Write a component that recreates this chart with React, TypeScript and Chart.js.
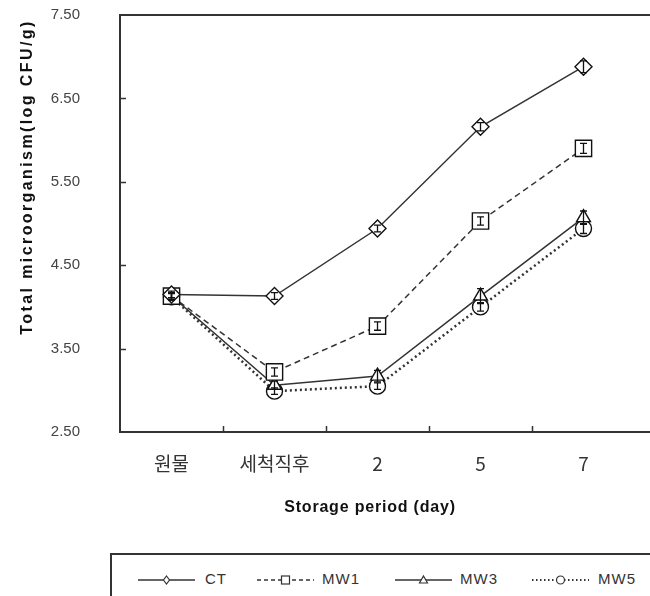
import React, { useEffect, useRef } from 'react';
import { Chart, registerables } from 'chart.js';

Chart.register(...registerables);

const categories = ['원물', '세척직후', '2', '5', '7'];
const ctValues = [4.15, 4.13, 4.94, 6.16, 6.88];
const mw1Values = [4.13, 3.22, 3.77, 5.03, 5.9];
const mw3Values = [4.13, 3.06, 3.17, 4.13, 5.07];
const mw5Values = [4.12, 2.99, 3.05, 4.0, 4.94];
const ctErr = [0.04, 0.04, 0.04, 0.05, 0.07];
const mw1Err = [0.04, 0.05, 0.05, 0.05, 0.06];
const mw3Err = [0.04, 0.05, 0.07, 0.09, 0.08];
const mw5Err = [0.04, 0.04, 0.04, 0.05, 0.06];
const yMin = 2.5;
const yMax = 7.5;
const yStep = 1;
const yTitle = 'Total microorganism(log CFU/g)';
const xTitle = 'Storage period (day)';
const seriesNames = ['CT', 'MW1', 'MW3', 'MW5'];

const LINE = '#333';

const errorBars = [ctErr, mw1Err, mw3Err, mw5Err];

const customPlugin = {
  id: 'custom',
  afterDatasetsDraw(chart: any) {
    const { ctx, chartArea, scales } = chart;
    const x = scales.x;
    const y = scales.y;
    ctx.save();
    // error bars
    ctx.strokeStyle = '#111';
    ctx.lineWidth = 1.3;
    chart.data.datasets.forEach((ds: any, di: number) => {
      const errs = errorBars[di];
      ds.data.forEach((v: number, i: number) => {
        const px = x.getPixelForValue(i);
        const y1 = y.getPixelForValue(v + errs[i]);
        const y2 = y.getPixelForValue(v - errs[i]);
        ctx.beginPath();
        ctx.moveTo(px, y1);
        ctx.lineTo(px, y2);
        ctx.moveTo(px - 3.5, y1);
        ctx.lineTo(px + 3.5, y1);
        ctx.moveTo(px - 3.5, y2);
        ctx.lineTo(px + 3.5, y2);
        ctx.stroke();
      });
    });
    // frame
    ctx.strokeStyle = LINE;
    ctx.lineWidth = 2;
    ctx.strokeRect(chartArea.left, chartArea.top, chartArea.right - chartArea.left, chartArea.bottom - chartArea.top);
    // inner ticks x
    ctx.lineWidth = 1.5;
    ctx.beginPath();
    for (let i = 1; i < categories.length; i++) {
      const px = Math.round((x.getPixelForValue(i - 1) + x.getPixelForValue(i)) / 2) + 0.5;
      ctx.moveTo(px, chartArea.bottom);
      ctx.lineTo(px, chartArea.bottom - 6);
    }
    // inner ticks y
    for (let v = yMin + yStep; v < yMax; v += yStep) {
      const py = Math.round(y.getPixelForValue(v)) + 0.5;
      ctx.moveTo(chartArea.left, py);
      ctx.lineTo(chartArea.left + 6, py);
    }
    ctx.stroke();
    // axis titles
    ctx.fillStyle = '#111';
    ctx.textAlign = 'center';
    ctx.textBaseline = 'middle';
    ctx.font = 'bold 16px "Liberation Sans Narrow", "Liberation Sans", Arial, sans-serif';
    try { (ctx as any).letterSpacing = '2.4px'; } catch (e) {}
    ctx.save();
    ctx.translate(28, chartArea.top + 162);
    ctx.rotate(-Math.PI / 2);
    ctx.fillText(yTitle, 0, 0);
    ctx.restore();
    try { (ctx as any).letterSpacing = '0.8px'; } catch (e) {}
    ctx.fillText(xTitle, chartArea.left + 250, chartArea.bottom + 76);
    ctx.restore();
  },
};

function Sample({ dash, width, marker }: { dash?: string; width: number; marker: string }) {
  const w = 57;
  const h = 14;
  const cx = w / 2;
  const cy = h / 2;
  let m: any = null;
  if (marker === 'diamond') m = <polygon points={`${cx},${cy - 4} ${cx + 3},${cy} ${cx},${cy + 4} ${cx - 3},${cy}`} fill="#fff" stroke="#333" strokeWidth={1.2} />;
  if (marker === 'square') m = <rect x={cx - 4} y={cy - 4} width={8} height={8} fill="#fff" stroke="#333" strokeWidth={1.2} />;
  if (marker === 'triangle') m = <polygon points={`${cx},${cy - 4} ${cx + 4},${cy + 3} ${cx - 4},${cy + 3}`} fill="#fff" stroke="#333" strokeWidth={1.2} />;
  if (marker === 'circle') m = <circle cx={cx} cy={cy} r={4} fill="#fff" stroke="#333" strokeWidth={1.2} />;
  return (
    <svg width={w} height={h} style={{ display: 'block' }}>
      <line x1={0} y1={cy} x2={w} y2={cy} stroke="#333" strokeWidth={width} strokeDasharray={dash} />
      {m}
    </svg>
  );
}

export default function App() {
  const ref = useRef<HTMLCanvasElement>(null);
  useEffect(() => {
    if (!ref.current) return;
    const common = {
      pointBorderColor: '#111',
      pointBackgroundColor: '#fff',
      pointBorderWidth: 1.4,
      borderColor: LINE,
      tension: 0,
      fill: false,
    };
    const chart = new Chart(ref.current, {
      type: 'line',
      data: {
        labels: [...categories, ''],
        datasets: [
          { ...common, label: seriesNames[0], data: ctValues, borderWidth: 1.5, pointStyle: 'rectRot', pointRadius: 8.5 },
          { ...common, label: seriesNames[1], data: mw1Values, borderWidth: 1.5, borderDash: [6, 4], pointStyle: 'rect', pointRadius: 11.5 },
          { ...common, label: seriesNames[2], data: mw3Values, borderWidth: 1.5, pointStyle: 'triangle', pointRadius: 8 },
          { ...common, label: seriesNames[3], data: mw5Values, borderWidth: 2.5, borderDash: [2, 3], pointStyle: 'circle', pointRadius: 8 },
        ],
      },
      options: {
        responsive: false,
        animation: false,
        layout: { autoPadding: false, padding: { left: 0, right: 10, top: 15, bottom: 0 } },
        plugins: { legend: { display: false }, tooltip: { enabled: false } },
        scales: {
          x: {
            type: 'category',
            offset: true,
            grid: { display: false, drawTicks: false },
            border: { display: false },
            ticks: {
              padding: 20,
              color: '#333',
              font: { family: '"Noto Sans CJK KR", "Liberation Sans", sans-serif', size: 19 },
              maxRotation: 0,
              autoSkip: false,
            },
            afterFit: (s: any) => { s.height = 108; },
          },
          y: {
            min: yMin,
            max: yMax,
            grid: { display: false, drawTicks: false },
            border: { display: false },
            ticks: {
              stepSize: yStep,
              padding: 40,
              color: '#444',
              font: { family: '"Liberation Sans", Arial, sans-serif', size: 15 },
              callback: (v: any) => Number(v).toFixed(2),
            },
            afterFit: (s: any) => { s.width = 120; s.paddingTop = 0; s.paddingBottom = 0; },
          },
        },
      },
      plugins: [customPlugin],
    });
    return () => chart.destroy();
  }, []);

  const items = [
    { name: seriesNames[0], left: 26, textLeft: 93, marker: 'diamond', width: 1.5 },
    { name: seriesNames[1], left: 145, textLeft: 210, marker: 'square', dash: '4 3', width: 1.3 },
    { name: seriesNames[2], left: 283, textLeft: 348, marker: 'triangle', width: 1.5 },
    { name: seriesNames[3], left: 420, textLeft: 486, marker: 'circle', dash: '1.5 2.5', width: 2 },
  ];

  return (
    <div style={{ position: 'fixed', left: 0, top: 0, width: 650, height: 596, overflow: 'hidden', background: '#fff' }}>
      <canvas ref={ref} width={748} height={540} style={{ position: 'absolute', left: 0, top: 0 }} />
      <div style={{ position: 'absolute', left: 110, top: 553, width: 600, height: 60, border: '2px solid #333', boxSizing: 'border-box' }}>
        {items.map((it) => (
          <React.Fragment key={it.name}>
            <div style={{ position: 'absolute', left: it.left, top: 18 }}>
              <Sample dash={it.dash} width={it.width} marker={it.marker} />
            </div>
            <span style={{ position: 'absolute', left: it.textLeft, top: 14, fontFamily: '"Liberation Sans", Arial, sans-serif', fontSize: 15, letterSpacing: '1px', color: '#333', lineHeight: '20px' }}>{it.name}</span>
          </React.Fragment>
        ))}
      </div>
    </div>
  );
}
